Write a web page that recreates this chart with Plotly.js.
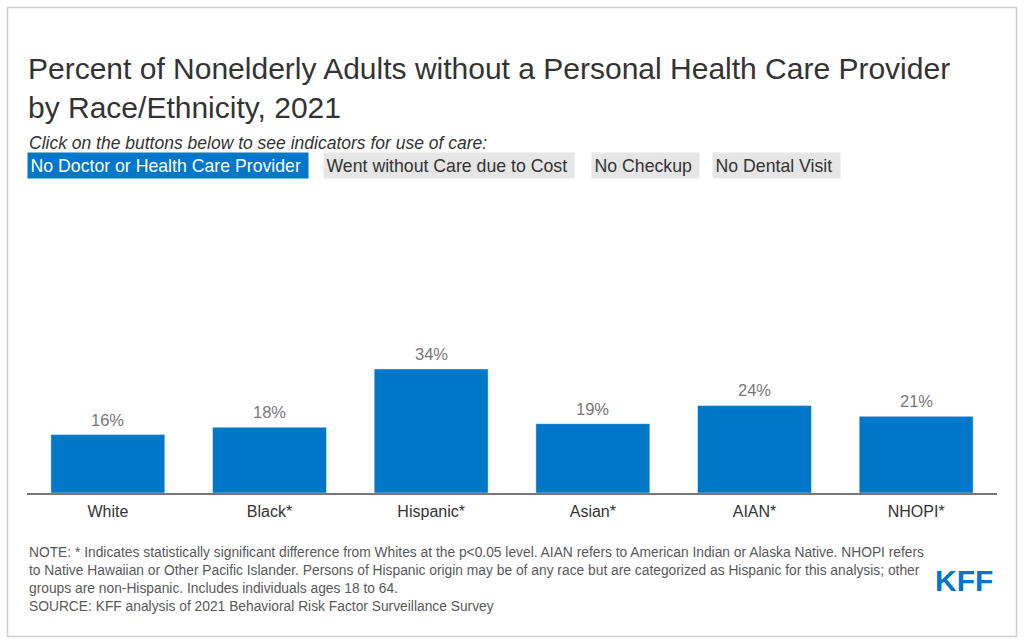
<!DOCTYPE html>
<html>
<head>
<meta charset="utf-8">
<script src="https://cdn.plot.ly/plotly-3.0.1.min.js"></script>
<style>
  html, body { margin: 0; padding: 0; background: #fff; }
  #chart { width: 1024px; height: 644px; }
</style>
</head>
<body>
<div id="chart"></div>
<script>
// ---- Data ----
const categories = ['White', 'Black*', 'Hispanic*', 'Asian*', 'AIAN*', 'NHOPI*'];
const values = [16, 18, 34, 19, 24, 21];
const buttonLabels = ['No Doctor or Health Care Provider', 'Went without Care due to Cost', 'No Checkup', 'No Dental Visit'];
const titleText = 'Percent of Nonelderly Adults without a Personal Health Care Provider<br>by Race/Ethnicity, 2021';
const subtitleText = 'Click on the buttons below to see indicators for use of care:';
const noteLines = [
  'NOTE: * Indicates statistically significant difference from Whites at the p<0.05 level. AIAN refers to American Indian or Alaska Native. NHOPI refers',
  'to Native Hawaiian or Other Pacific Islander. Persons of Hispanic origin may be of any race but are categorized as Hispanic for this analysis; other',
  'groups are non-Hispanic. Includes individuals ages 18 to 64.',
  'SOURCE: KFF analysis of 2021 Behavioral Risk Factor Surveillance Survey'
];

// ---- Layout geometry ----
const W = 1024, H = 644;
const M = { l: 27, r: 27, t: 200, b: 151 };
const PW = W - M.l - M.r, PH = H - M.t - M.b;
const px = x => (x - M.l) / PW;           // pixel x -> paper x
const py = y => (H - M.b - y) / PH;       // pixel y -> paper y

const FONT = 'Arial, "Liberation Sans", Helvetica, sans-serif';
const BLUE = '#0077c8';

const annotations = [];

// subtitle
annotations.push({
  xref: 'paper', yref: 'paper', x: px(27), y: py(143),
  xanchor: 'left', yanchor: 'middle', showarrow: false,
  text: '<i>' + subtitleText + '</i>',
  font: { family: FONT, size: 17.5, color: '#333333' }
});

// buttons
const btnLeft = [27, 323, 591, 712];
buttonLabels.forEach((b, i) => {
  annotations.push({
    xref: 'paper', yref: 'paper', x: px(btnLeft[i]), y: py(165.5),
    xanchor: 'left', yanchor: 'middle', showarrow: false,
    text: b + '&nbsp;',
    bgcolor: i === 0 ? BLUE : '#e6e6e6',
    borderpad: 2.5,
    font: { family: FONT, size: 17.7, color: i === 0 ? '#ffffff' : '#333333' }
  });
});

// value labels
categories.forEach((c, i) => {
  annotations.push({
    xref: 'x', yref: 'y', x: c, y: values[i],
    xanchor: 'center', yanchor: 'bottom', showarrow: false, yshift: 4,
    text: values[i] + '%',
    font: { family: FONT, size: 16.5, color: '#777777' }
  });
});

// notes
annotations.push({
  xref: 'paper', yref: 'paper', x: px(27), y: py(543),
  xanchor: 'left', yanchor: 'top', align: 'left', showarrow: false,
  text: noteLines.join('<br>'),
  font: { family: FONT, size: 13.8, color: '#595959' }
});

// KFF logo
annotations.push({
  xref: 'paper', yref: 'paper', x: px(964), y: py(580),
  xanchor: 'center', yanchor: 'middle', showarrow: false,
  text: '<b>KFF</b>',
  font: { family: FONT, size: 30, color: BLUE }
});

const data = [{
  type: 'bar',
  x: categories,
  y: values,
  width: 0.705,
  marker: { color: BLUE, line: { color: 'rgba(255,255,255,0.45)', width: 1 } },
  hoverinfo: 'x+y'
}];

const layout = {
  width: W, height: H,
  margin: M,
  paper_bgcolor: '#ffffff', plot_bgcolor: '#ffffff',
  font: { family: FONT, color: '#333333' },
  title: {
    text: titleText,
    xref: 'container', yref: 'container',
    x: 28 / W, xanchor: 'left',
    y: 1 - 78.5 / H, yanchor: 'top',
    font: { family: FONT, size: 30, color: '#333333' }
  },
  showlegend: false,
  xaxis: {
    showline: true, linecolor: '#777777', linewidth: 2,
    showgrid: false, zeroline: false, ticks: '',
    ticklabelstandoff: 3,
    tickfont: { family: FONT, size: 16, color: '#333333' },
    fixedrange: true
  },
  yaxis: {
    range: [0, 80.3], visible: false, showgrid: false, zeroline: false, fixedrange: true
  },
  annotations: annotations,
  shapes: [{
    type: 'rect', xref: 'paper', yref: 'paper',
    x0: px(7.5), x1: px(1016.5), y0: py(636.5), y1: py(7.5),
    line: { color: '#d0d0d0', width: 1.5 }, fillcolor: 'rgba(0,0,0,0)', layer: 'below'
  }]
};

Plotly.newPlot('chart', data, layout, { displayModeBar: false });
</script>
</body>
</html>
